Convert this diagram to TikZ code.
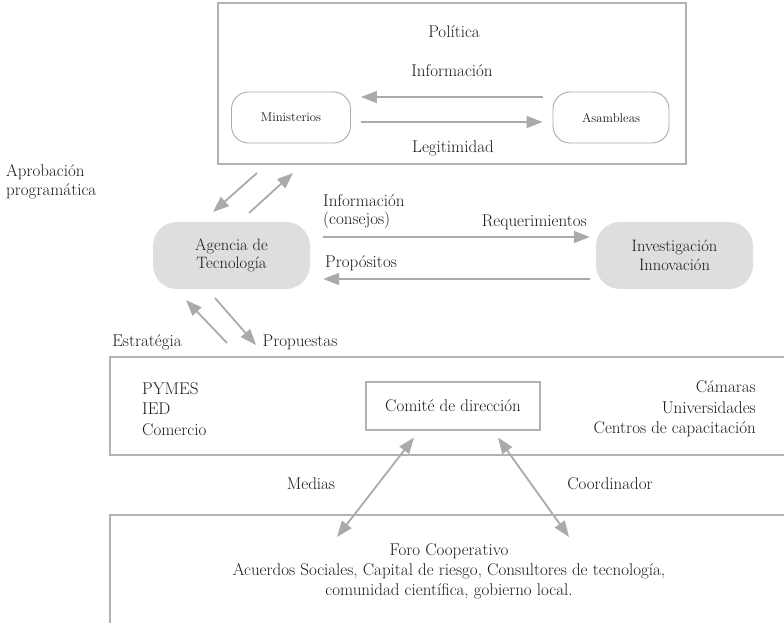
\documentclass[tikz,border=0pt]{standalone}
\usepackage{fontspec}
\usetikzlibrary{arrows.meta,calc}
\definecolor{lg}{HTML}{AAAAAA}
\definecolor{bx}{HTML}{B2B2B2}
\definecolor{nf}{HTML}{DEDEDE}
\definecolor{tx}{HTML}{1A1A1A}
\begin{document}
\begin{tikzpicture}[x=1pt,y=-1pt,
  every node/.style={font=\fontsize{17}{20}\selectfont, text=tx, inner sep=0pt},
  frame/.style={draw=bx, line width=1.5pt},
  arr/.style={draw=lg, line width=1.8pt, -{Triangle[length=16pt,width=12pt]}},
  darr/.style={draw=lg, line width=1.8pt, {Triangle[length=16pt,width=12pt]}-{Triangle[length=16pt,width=12pt]}},
  roundnode/.style={draw=lg, line width=0.9pt, rounded corners=17pt, minimum width=119pt, minimum height=51pt, font=\fontsize{12.8}{15}\selectfont},
  graynode/.style={fill=nf, rounded corners=24pt, minimum width=157pt, minimum height=67pt, align=center, font=\fontsize{16.5}{18.5}\selectfont},
  lbl/.style={align=left}
]
\useasboundingbox (0,0) rectangle (784,623);

% top box
\node[frame, minimum width=468pt, minimum height=161pt] (pol) at (452,83.5) {};
\node (poltitle) at (454,32) {Política};
\node (infolbl) at (452,71) {Información};
\node (legitlbl) at (453,148) {Legitimidad};
\node[roundnode] (min) at (291,117.5) {Ministerios};
\node[roundnode, minimum width=116pt] (asam) at (611,117.5) {Asambleas};
\draw[arr] ($(asam.west)+(-10,-20.5)$) -- ($(min.east)+(10,-20.5)$);
\draw[arr] ($(min.east)+(10,4.5)$) -- ($(asam.west)+(-10,4.5)$);

% approval arrows
\node[lbl, anchor=west, font=\fontsize{17}{19}\selectfont] (aprob) at (6,182) {Aprobación\\programática};
\coordinate (d1s) at (257,173);
\coordinate (d1e) at (213,212);
\coordinate (d2s) at (249,213);
\coordinate (d2e) at (293,173);
\draw[arr] (d1s) -- (d1e);
\draw[arr] (d2s) -- (d2e);

% middle row
\node[graynode] (ag) at (231.5,255.5) {Agencia de\\Tecnología};
\node[graynode] (inv) at (674.5,255.5) {Investigación\\Innovación};
\node[lbl, anchor=west, font=\fontsize{17}{17.5}\selectfont] (infocons) at (323,211.5) {Información\\(consejos)};
\node[anchor=east] (req) at (587,222) {Requerimientos};
\node[anchor=west] (prop) at (325,263) {Propósitos};
\draw[arr] ($(ag.east)+(13,-18.5)$) -- ($(inv.west)+(-6,-18.5)$);
\draw[arr] ($(inv.west)+(-6,23.5)$) -- ($(ag.east)+(13,23.5)$);

% strategy arrows
\coordinate (e1s) at (227,343);
\coordinate (e1e) at (186,300);
\coordinate (e2s) at (215,298);
\coordinate (e2e) at (256,345);
\draw[arr] (e1s) -- (e1e);
\draw[arr] (e2s) -- (e2e);
\node (estr) at (147,342) {Estratégia};
\node (props) at (300,342) {Propuestas};

% middle box (open right)
\draw[frame] (790,357) -- (110,357) -- (110,455) -- (790,455);
\node[lbl, anchor=west, font=\fontsize{17}{20.5}\selectfont] (left) at (142,409) {PYMES\\IED\\Comercio};
\node[align=right, anchor=east, font=\fontsize{17}{20.5}\selectfont] (right) at (756,409) {Cámaras\\Universidades\\Centros de capacitación};
\node[draw=bx, line width=1.2pt, minimum width=174pt, minimum height=48pt] (com) at (453,406) {Comité de dirección};

% connectors to forum
\node (medias) at (311,484) {Medias};
\node (coord) at (610,484) {Coordinador};
\coordinate (m2) at (337,537);
\coordinate (c2) at (569,537);
\draw[darr] ($(com.south)+(-39,7)$) -- (m2);
\draw[darr] ($(com.south)+(45,7)$) -- (c2);

% bottom box (open right and bottom)
\draw[frame] (790,515) -- (110,515) -- (110,630);
\node[align=center, font=\fontsize{17}{20}\selectfont] (foro) at (449,571) {Foro Cooperativo\\Acuerdos Sociales, Capital de riesgo, Consultores de tecnología,\\comunidad científica, gobierno local.};
\end{tikzpicture}
\end{document}
